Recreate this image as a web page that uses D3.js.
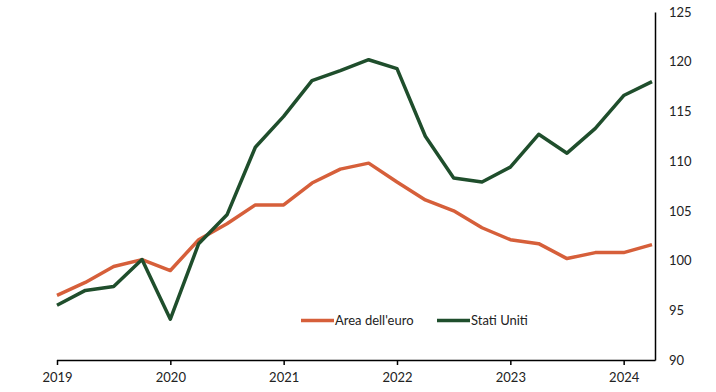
<!DOCTYPE html>
<html><head><meta charset="utf-8">
<script src="https://cdn.jsdelivr.net/npm/d3@7"></script>
<style>body{margin:0;background:#fff}svg{display:block}text{font-family:Lato,sans-serif;fill:#222}</style>
</head><body><svg id="c" width="716" height="392"></svg>
<script>
const quarters = ["2019T1","2019T2","2019T3","2019T4","2020T1","2020T2","2020T3","2020T4","2021T1","2021T2","2021T3","2021T4","2022T1","2022T2","2022T3","2022T4","2023T1","2023T2","2023T3","2023T4","2024T1","2024T2"];
const areaEuro = [96.5,97.8,99.4,100.1,99.0,102.1,103.7,105.6,105.6,107.8,109.2,109.8,107.9,106.1,105.0,103.3,102.1,101.7,100.2,100.8,100.8,101.6];
const statiUniti = [95.5,97.0,97.4,100.1,94.1,101.7,104.6,111.4,114.5,118.1,119.1,120.2,119.3,112.5,108.3,107.9,109.4,112.7,110.8,113.3,116.6,118.0];
const yTicks = [90,95,100,105,110,115,120,125];
const seriesNames = ["Area dell'euro","Stati Uniti"];
const colors = ["#D65F3A","#1F4E2C"];

const svg = d3.select("#c");
const x = d3.scalePoint().domain(quarters).range([57, 652]);
const y = d3.scaleLinear().domain([90,125]).range([360, 12]);

// bottom axis
const xAxis = d3.axisBottom(x)
  .tickValues(quarters.filter(q => q.endsWith("T1")))
  .tickFormat(q => q.slice(0,4))
  .tickSize(5).tickSizeOuter(0);
const gx = svg.append("g").attr("transform","translate(0,360)").call(xAxis);
gx.select(".domain").attr("d","M57,0.5H655.5").attr("stroke","#000").attr("stroke-width",1.5);
gx.selectAll(".tick line").attr("stroke","#000").attr("stroke-width",1.5);
gx.selectAll(".tick text").attr("y",13).attr("font-size","13px").attr("font-family","Lato").attr("fill","#222");

// right axis
const yAxis = d3.axisRight(y).tickValues(yTicks).tickSize(0).tickSizeOuter(0).tickPadding(14);
const gy = svg.append("g").attr("transform","translate(655,0)").call(yAxis);
gy.select(".domain").attr("stroke","#000").attr("stroke-width",1.5);
gy.selectAll(".tick text").attr("font-size","13px").attr("font-family","Lato").attr("fill","#222");

const line = d3.line().x((d,i)=>x(quarters[i])).y(d=>y(d));
[areaEuro, statiUniti].forEach((s,k)=>{
  svg.append("path").datum(s).attr("d",line).attr("fill","none")
    .attr("stroke",colors[k]).attr("stroke-width",3.5).attr("stroke-linejoin","round");
});

// legend
const legX = [301, 437];
seriesNames.forEach((n,k)=>{
  const g = svg.append("g").attr("transform",`translate(${legX[k]},320.5)`);
  g.append("line").attr("x1",0).attr("x2",33).attr("stroke",colors[k]).attr("stroke-width",3.5);
  g.append("text").attr("x",34).attr("dy","0.35em").attr("font-size","13px").text(n);
});
</script></body></html>
